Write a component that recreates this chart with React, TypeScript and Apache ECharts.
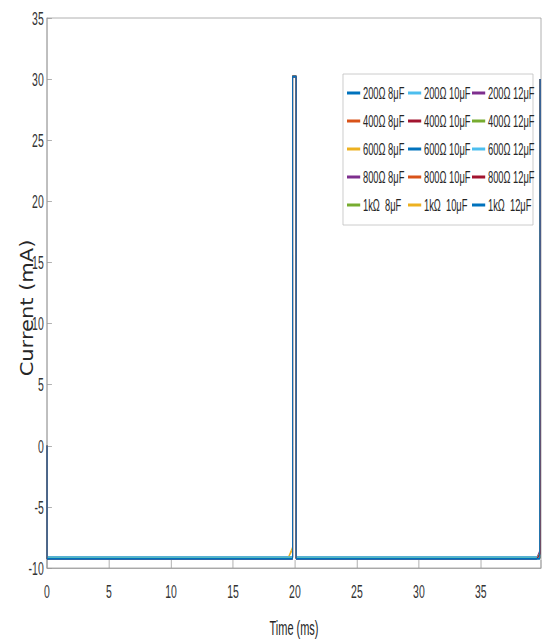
import React, { useEffect, useRef } from "react";
import * as echarts from "echarts";

// time samples (ms) shared by all traces
const timeMs = [0, 0, 19.44, 19.76, 19.81, 19.81, 20.1, 20.1, 39.5, 39.75, 39.78, 39.78];

// current (mA) per trace, aligned with timeMs
const r200c8 = [0, -9.15, -9.15, -9.15, -9.15, 30.2, 30.2, -9.15, -9.15, -9.15, -9.15, 30.0];
const r400c8 = [0, -9.15, -9.15, -9.15, -9.15, 30.2, 30.2, -9.15, -9.15, -9.15, -9.15, 30.0];
const r600c8 = [0, -9.2, -9.2, -8.4, -8.3, 30.2, 30.2, -9.2, -9.2, -9.2, -9.2, 30.0];
const r800c8 = [0, -9.2, -9.2, -9.2, -9.2, 30.2, 30.2, -9.2, -9.2, -8.6, -8.5, 30.0];
const r1kc8 = [0, -9.2, -9.2, -9.2, -9.2, 30.2, 30.2, -9.2, -9.2, -8.8, -8.7, 30.0];
const r200c10 = [0, -9.1, -9.1, -9.1, -9.1, 30.2, 30.2, -9.1, -9.1, -9.1, -9.1, 30.0];
const r400c10 = [0, -9.15, -9.15, -9.15, -9.15, 30.2, 30.2, -9.15, -9.15, -9.15, -9.15, 30.0];
const r600c10 = [0, -9.2, -9.2, -9.2, -9.2, 30.2, 30.2, -9.2, -9.2, -9.2, -9.2, 30.0];
const r800c10 = [0, -9.2, -9.2, -9.2, -9.2, 30.2, 30.2, -9.2, -9.2, -9.2, -9.2, 30.0];
const r1kc10 = [0, -9.2, -9.2, -8.6, -8.5, 30.2, 30.2, -9.2, -9.2, -9.2, -9.2, 30.0];
const r200c12 = [0, -9.15, -9.15, -9.15, -9.15, 30.2, 30.2, -9.15, -9.15, -9.15, -9.15, 30.0];
const r400c12 = [0, -9.15, -9.15, -9.15, -9.15, 30.2, 30.2, -9.15, -9.15, -9.15, -9.15, 30.0];
const r600c12 = [0, -9.1, -9.1, -9.1, -9.1, 30.2, 30.2, -9.1, -9.1, -9.1, -9.1, 30.0];
const r800c12 = [0, -9.25, -9.25, -9.25, -9.25, 30.2, 30.2, -9.25, -9.25, -8.9, -8.8, 30.0];
const r1kc12 = [0, -9.25, -9.25, -9.25, -9.25, 30.2, 30.2, -9.25, -9.25, -9.25, -9.25, 30.0];

// plotting order (MATLAB colour cycle order)
const seriesNames = [
  "200Ω 8μF", "400Ω 8μF", "600Ω 8μF", "800Ω 8μF", "1kΩ  8μF",
  "200Ω 10μF", "400Ω 10μF", "600Ω 10μF", "800Ω 10μF", "1kΩ  10μF",
  "200Ω 12μF", "400Ω 12μF", "600Ω 12μF", "800Ω 12μF", "1kΩ  12μF",
];
const seriesValues = [
  r200c8, r400c8, r600c8, r800c8, r1kc8,
  r200c10, r400c10, r600c10, r800c10, r1kc10,
  r200c12, r400c12, r600c12, r800c12, r1kc12,
];
const seriesColors = [
  "#0072BD", "#D95319", "#EDB120", "#7E2F8E", "#77AC30",
  "#4DBEEE", "#A2142F", "#0072BD", "#D95319", "#EDB120",
  "#7E2F8E", "#77AC30", "#4DBEEE", "#A2142F", "#0072BD",
];

const xTicks = [0, 5, 10, 15, 20, 25, 30, 35];
const yTicks = [-10, -5, 0, 5, 10, 15, 20, 25, 30, 35];

const SCREEN_W = 544;
const SCREEN_H = 643;
const INNER_W = 989;
const SX = SCREEN_W / INNER_W;
const ux = (x: number) => x / SX; // screen x -> inner x

export default function App() {
  const ref = useRef<HTMLDivElement>(null);

  useEffect(() => {
    if (!ref.current) return;
    const chart = echarts.init(ref.current, null, { renderer: "svg" });
    const font = "'Liberation Sans', Arial, sans-serif";
    const series = seriesNames.map((name, i) => ({
      name,
      type: "line",
      symbol: "none",
      showSymbol: false,
      color: seriesColors[i],
      lineStyle: { width: 1.7, color: seriesColors[i] },
      data: timeMs.map((t, k) => [t, seriesValues[i][k]]),
    }));
    const legendCols = [0, 1, 2].map((c) => ({
      orient: "vertical",
      left: ux([347, 408, 472][c]),
      top: 84.5,
      padding: 0,
      itemGap: 11,
      itemWidth: 24,
      itemHeight: 3,
      icon: "rect",
      selectedMode: false,
      textStyle: { fontSize: 17, fontFamily: font, color: "#262626", lineHeight: 17 },
      data: seriesNames.slice(c * 5, c * 5 + 5),
    }));
    chart.setOption({
      animation: false,
      backgroundColor: "#ffffff",
      grid: {
        left: ux(47),
        right: ux(3),
        top: 18,
        bottom: 71,
        show: true,
        borderColor: "#9a9a9a",
        borderWidth: 1,
      },
      xAxis: {
        type: "value",
        min: 0,
        max: 39.85,
        interval: 5,
        name: "Time (ms)",
        nameLocation: "middle",
        nameGap: 50,
        nameTextStyle: { fontSize: 20, fontFamily: font, color: "#262626" },
        axisLine: { onZero: false, lineStyle: { color: "#9a9a9a" } },
        axisTick: { inside: true, length: 8, lineStyle: { color: "#9a9a9a" } },
        axisLabel: {
          fontSize: 19,
          fontFamily: font,
          color: "#333",
          margin: 14,
          formatter: (v: number) => (xTicks.includes(v) ? String(v) : ""),
        },
        splitLine: { show: false },
      },
      yAxis: {
        type: "value",
        min: -10,
        max: 35,
        interval: 5,
        axisLine: { show: true, onZero: false, lineStyle: { color: "#9a9a9a" } },
        axisTick: { show: true, inside: true, length: 9, lineStyle: { color: "#9a9a9a" } },
        axisLabel: {
          fontSize: 19,
          fontFamily: font,
          color: "#333",
          margin: 6,
          formatter: (v: number) => (yTicks.includes(v) ? String(v) : ""),
        },
        splitLine: { show: false },
      },
      legend: legendCols,
      graphic: [
        {
          type: "rect",
          z: 3,
          shape: { x: ux(343), y: 74, width: ux(533) - ux(343), height: 151 },
          style: { fill: "#ffffff", stroke: "#bdbdbd", lineWidth: 1 },
        },
        {
          type: "text",
          z: 5,
          x: ux(27),
          y: 308,
          rotation: Math.PI / 2,
          scaleY: 1.45,
          style: {
            text: "Current (mA)",
            fontSize: 21,
            fontFamily: "'DejaVu Sans', sans-serif",
            fill: "#262626",
            align: "center",
            verticalAlign: "middle",
          },
        },
      ],
      series,
    });
    return () => chart.dispose();
  }, []);

  return (
    <div
      style={{
        position: "fixed",
        left: 0,
        top: 0,
        width: SCREEN_W,
        height: SCREEN_H,
        overflow: "hidden",
        background: "#fff",
      }}
    >
      <div
        ref={ref}
        style={{
          width: INNER_W,
          height: SCREEN_H,
          transform: `scaleX(${SX})`,
          transformOrigin: "0 0",
        }}
      />
    </div>
  );
}
